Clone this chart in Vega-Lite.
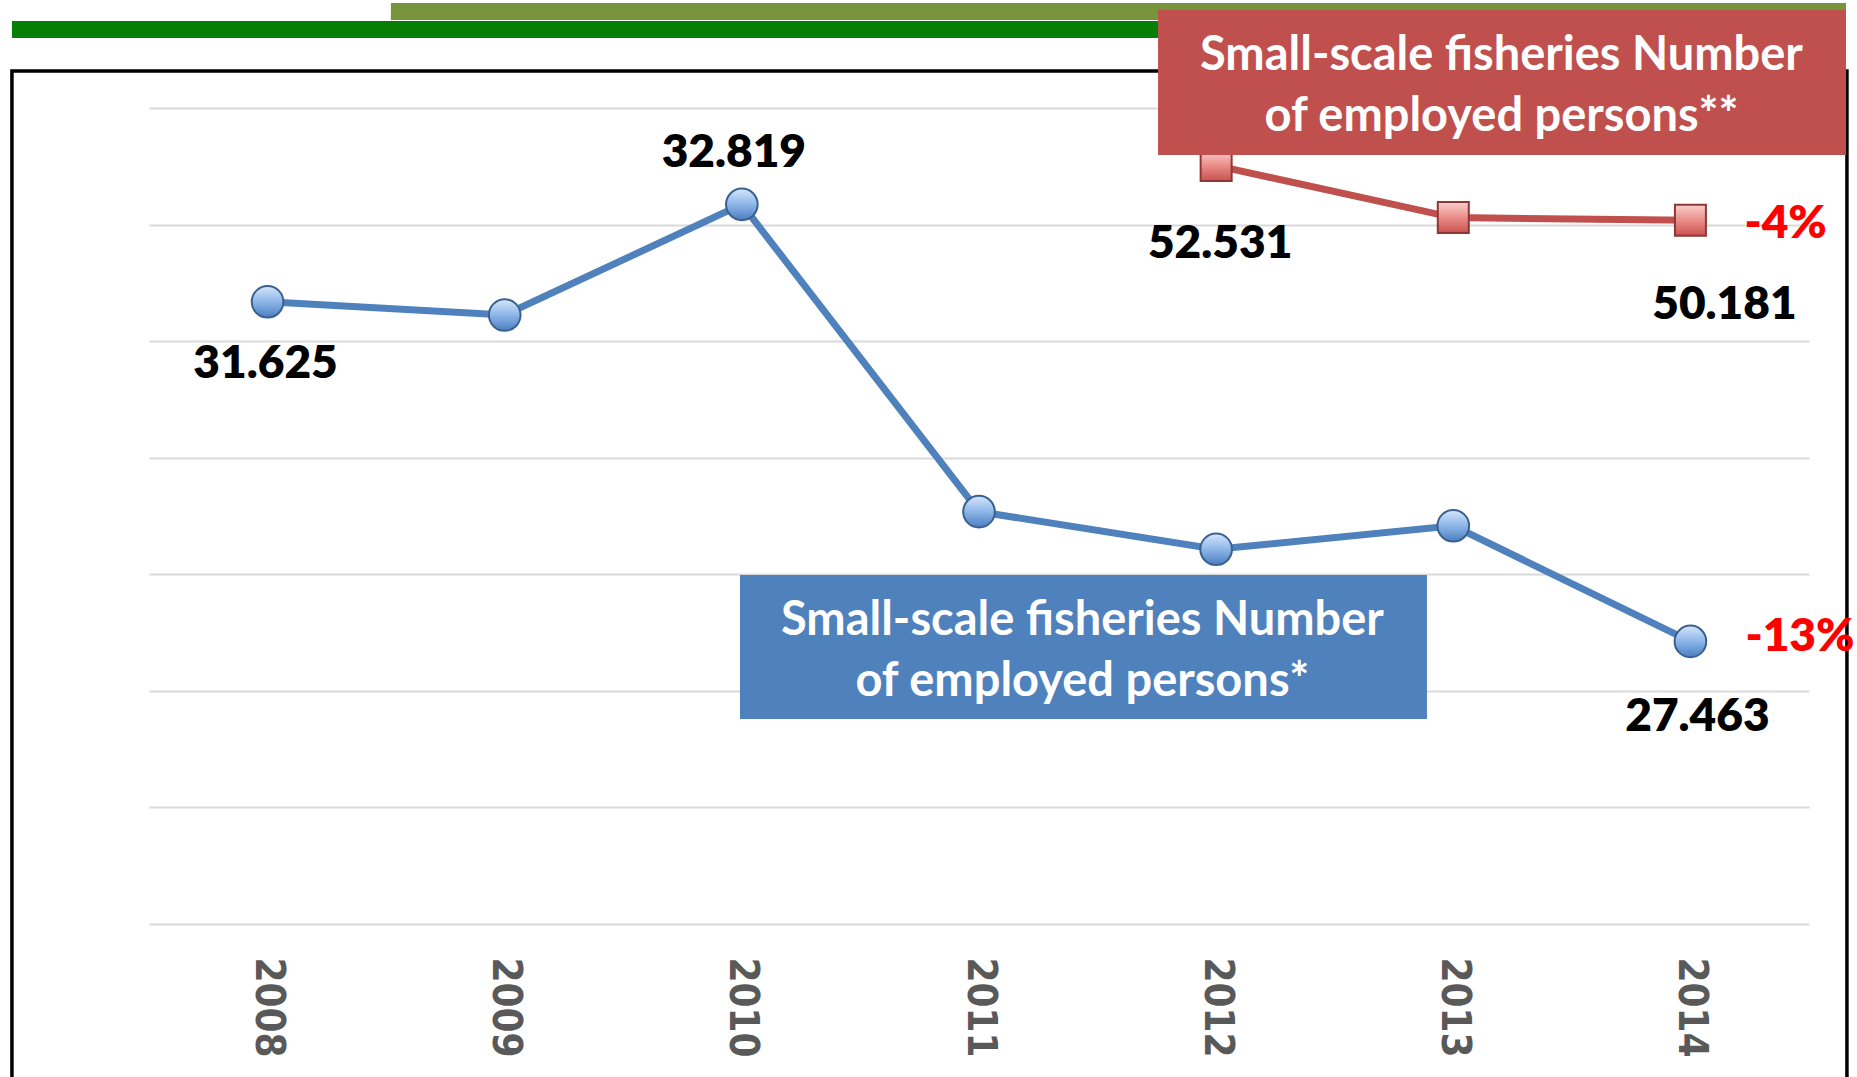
{
  "$schema": "https://vega.github.io/schema/vega-lite/v6.json",
  "width": 1660,
  "height": 816,
  "autosize": {"type": "none"},
  "padding": {"left": 149, "top": 108, "right": 48, "bottom": 153},
  "background": "white",
  "config": {
    "view": {"stroke": null},
    "locale": {"number": {"decimal": ",", "thousands": ".", "grouping": [3], "currency": ["", "€"]}},
    "axisX": {"domain": false, "ticks": false, "grid": false, "labelAngle": 90, "labelFont": "DejaVu Sans Condensed, DejaVu Sans", "labelFontWeight": "bold", "labelFontSize": 40, "labelColor": "#595959", "labelPadding": 33, "labelOverlap": false, "labelFlush": false},
    "axisY": {"domain": false, "ticks": false, "labels": false, "grid": true, "gridColor": "#D9D9D9", "gridWidth": 2}
  },
  "datasets": {
    "blue": [
      {"year": 2008, "value": 31625},
      {"year": 2009, "value": 31463},
      {"year": 2010, "value": 32819},
      {"year": 2011, "value": 29053},
      {"year": 2012, "value": 28592},
      {"year": 2013, "value": 28880},
      {"year": 2014, "value": 27463}
    ],
    "red": [
      {"year": 2012, "value": 52531},
      {"year": 2013, "value": 50300},
      {"year": 2014, "value": 50181}
    ],
    "shapes": [
      {"name": "frame", "x1": 2006.922, "x2": 2014.66, "y1": 56587, "y2": 12451},
      {"name": "olive", "x1": 2008.52, "x2": 2014.656, "y1": 59504, "y2": 58774},
      {"name": "green", "x1": 2006.922, "x2": 2011.763, "y1": 58731, "y2": 58002},
      {"name": "redbox", "x1": 2011.755, "x2": 2014.656, "y1": 59203, "y2": 52984},
      {"name": "bluebox", "x1": 2009.992, "x2": 2012.889, "y1": 34969, "y2": 28793}
    ],
    "notes": [
      {"x": 2013.203, "y": 57359, "text": "Small-scale fisheries Number"},
      {"x": 2013.203, "y": 54743, "text": "of employed persons**"},
      {"x": 2011.436, "y": 33125, "text": "Small-scale fisheries Number"},
      {"x": 2011.436, "y": 30526, "text": "of employed persons*"}
    ]
  },
  "layer": [
    {
      "data": {"name": "shapes"},
      "layer": [
        {
          "transform": [{"filter": "datum.name === 'frame'"}],
          "mark": {"type": "rect", "fill": "transparent", "stroke": "black", "strokeWidth": 3.5},
          "encoding": {
            "x": {"field": "x1", "type": "quantitative", "scale": {"domain": [2007.5, 2014.5], "nice": false, "zero": false}, "axis": {"values": [2008, 2009, 2010, 2011, 2012, 2013, 2014], "format": "d", "title": null}},
            "x2": {"field": "x2"},
            "y": {"field": "y1", "type": "quantitative", "scale": {"domain": [20000, 55000], "nice": false, "zero": false}, "axis": {"values": [20000, 25000, 30000, 35000, 40000, 45000, 50000, 55000], "title": null}},
            "y2": {"field": "y2"}
          }
        },
        {
          "transform": [{"filter": "datum.name === 'olive'"}],
          "mark": {"type": "rect", "color": "#77933C"},
          "encoding": {
            "x": {"field": "x1", "type": "quantitative", "scale": {"domain": [2007.5, 2014.5], "nice": false, "zero": false}, "axis": {"values": [2008, 2009, 2010, 2011, 2012, 2013, 2014], "format": "d", "title": null}},
            "x2": {"field": "x2"},
            "y": {"field": "y1", "type": "quantitative", "scale": {"domain": [20000, 55000], "nice": false, "zero": false}, "axis": {"values": [20000, 25000, 30000, 35000, 40000, 45000, 50000, 55000], "title": null}},
            "y2": {"field": "y2"}
          }
        },
        {
          "transform": [{"filter": "datum.name === 'green'"}],
          "mark": {"type": "rect", "color": "#077F07"},
          "encoding": {
            "x": {"field": "x1", "type": "quantitative", "scale": {"domain": [2007.5, 2014.5], "nice": false, "zero": false}, "axis": {"values": [2008, 2009, 2010, 2011, 2012, 2013, 2014], "format": "d", "title": null}},
            "x2": {"field": "x2"},
            "y": {"field": "y1", "type": "quantitative", "scale": {"domain": [20000, 55000], "nice": false, "zero": false}, "axis": {"values": [20000, 25000, 30000, 35000, 40000, 45000, 50000, 55000], "title": null}},
            "y2": {"field": "y2"}
          }
        }
      ]
    },
    {
      "data": {"name": "blue"},
      "encoding": {
        "x": {"field": "year", "type": "quantitative", "scale": {"domain": [2007.5, 2014.5], "nice": false, "zero": false}, "axis": {"values": [2008, 2009, 2010, 2011, 2012, 2013, 2014], "format": "d", "title": null}},
        "y": {"field": "value", "type": "quantitative", "scale": {"domain": [24000, 34000], "nice": false, "zero": false}, "axis": null}
      },
      "layer": [
        {"mark": {"type": "line", "color": "#4F81BD", "strokeWidth": 7}},
        {"mark": {"type": "point", "shape": "circle", "filled": true, "size": 1000, "opacity": 1, "strokeWidth": 2, "stroke": "#3A6091",
          "fill": {"gradient": "linear", "x1": 0, "y1": 0, "x2": 0, "y2": 1, "stops": [{"offset": 0, "color": "#D6E6FA"}, {"offset": 0.5, "color": "#8DB6E8"}, {"offset": 1, "color": "#4A7EC0"}]}}},
        {"transform": [{"filter": "datum.year === 2008"}],
         "mark": {"type": "text", "font": "Lato", "fontWeight": 800, "fontSize": 46, "color": "black", "dy": 62.5, "dx": -2},
         "encoding": {"text": {"field": "value", "type": "quantitative", "format": ",.0f"}}},
        {"transform": [{"filter": "datum.year === 2010"}],
         "mark": {"type": "text", "font": "Lato", "fontWeight": 800, "fontSize": 46, "color": "black", "dy": -51, "dx": -8},
         "encoding": {"text": {"field": "value", "type": "quantitative", "format": ",.0f"}}},
        {"transform": [{"filter": "datum.year === 2014"}],
         "mark": {"type": "text", "font": "Lato", "fontWeight": 800, "fontSize": 46, "color": "black", "dy": 75.5, "dx": 7},
         "encoding": {"text": {"field": "value", "type": "quantitative", "format": ",.0f"}}},
        {"transform": [{"filter": "datum.year === 2014"}],
         "mark": {"type": "text", "text": "-13%", "font": "Lato", "fontWeight": 800, "fontSize": 46, "color": "#FF0000", "align": "left", "dy": -4, "dx": 55}}
      ]
    },
    {
      "encoding": {
        "y": {"field": "value", "type": "quantitative", "scale": {"domain": [20000, 55000], "nice": false, "zero": false}, "axis": null}
      },
      "layer": [
        {"data": {"name": "red"},
         "mark": {"type": "line", "color": "#C0504D", "strokeWidth": 7},
         "encoding": {"x": {"field": "year", "type": "quantitative", "scale": {"domain": [2007.5, 2014.5], "nice": false, "zero": false}, "axis": {"values": [2008, 2009, 2010, 2011, 2012, 2013, 2014], "format": "d", "title": null}}}},
        {"data": {"name": "red"},
         "mark": {"type": "point", "shape": "square", "filled": true, "size": 961, "opacity": 1, "strokeWidth": 2, "stroke": "#8C3836",
          "fill": {"gradient": "linear", "x1": 0, "y1": 0, "x2": 0, "y2": 1, "stops": [{"offset": 0, "color": "#FAD0CE"}, {"offset": 0.5, "color": "#EA8C88"}, {"offset": 1, "color": "#C9524E"}]}},
         "encoding": {"x": {"field": "year", "type": "quantitative", "scale": {"domain": [2007.5, 2014.5], "nice": false, "zero": false}, "axis": {"values": [2008, 2009, 2010, 2011, 2012, 2013, 2014], "format": "d", "title": null}}}},
        {"data": {"name": "red"},
         "transform": [{"filter": "datum.year === 2012"}],
         "mark": {"type": "text", "font": "Lato", "fontWeight": 800, "fontSize": 46, "color": "black", "dy": 78.5, "dx": 4},
         "encoding": {"x": {"field": "year", "type": "quantitative", "scale": {"domain": [2007.5, 2014.5], "nice": false, "zero": false}, "axis": {"values": [2008, 2009, 2010, 2011, 2012, 2013, 2014], "format": "d", "title": null}},
           "text": {"field": "value", "type": "quantitative", "format": ",.0f"}}},
        {"data": {"name": "red"},
         "transform": [{"filter": "datum.year === 2014"}],
         "mark": {"type": "text", "font": "Lato", "fontWeight": 800, "fontSize": 46, "color": "black", "dy": 84.5, "dx": 34},
         "encoding": {"x": {"field": "year", "type": "quantitative", "scale": {"domain": [2007.5, 2014.5], "nice": false, "zero": false}, "axis": {"values": [2008, 2009, 2010, 2011, 2012, 2013, 2014], "format": "d", "title": null}},
           "text": {"field": "value", "type": "quantitative", "format": ",.0f"}}},
        {"data": {"name": "red"},
         "transform": [{"filter": "datum.year === 2014"}],
         "mark": {"type": "text", "text": "-4%", "font": "Lato", "fontWeight": 800, "fontSize": 46, "color": "#FF0000", "align": "left", "dy": 4, "dx": 54},
         "encoding": {"x": {"field": "year", "type": "quantitative", "scale": {"domain": [2007.5, 2014.5], "nice": false, "zero": false}, "axis": {"values": [2008, 2009, 2010, 2011, 2012, 2013, 2014], "format": "d", "title": null}}}},
        {"data": {"name": "shapes"},
         "transform": [{"filter": "datum.name === 'redbox'"}, {"calculate": "datum.y1", "as": "value"}],
         "mark": {"type": "rect", "color": "#C0504D"},
         "encoding": {"x": {"field": "x1", "type": "quantitative", "scale": {"domain": [2007.5, 2014.5], "nice": false, "zero": false}, "axis": {"values": [2008, 2009, 2010, 2011, 2012, 2013, 2014], "format": "d", "title": null}},
           "x2": {"field": "x2"}, "y2": {"field": "y2"}}},
        {"data": {"name": "shapes"},
         "transform": [{"filter": "datum.name === 'bluebox'"}, {"calculate": "datum.y1", "as": "value"}],
         "mark": {"type": "rect", "color": "#4F81BD"},
         "encoding": {"x": {"field": "x1", "type": "quantitative", "scale": {"domain": [2007.5, 2014.5], "nice": false, "zero": false}, "axis": {"values": [2008, 2009, 2010, 2011, 2012, 2013, 2014], "format": "d", "title": null}},
           "x2": {"field": "x2"}, "y2": {"field": "y2"}}},
        {"data": {"name": "notes"},
         "transform": [{"calculate": "datum.y", "as": "value"}],
         "mark": {"type": "text", "font": "Lato", "fontWeight": "bold", "fontSize": 47, "color": "white", "align": "center", "baseline": "middle", "dy": 3},
         "encoding": {"x": {"field": "x", "type": "quantitative", "scale": {"domain": [2007.5, 2014.5], "nice": false, "zero": false}, "axis": {"values": [2008, 2009, 2010, 2011, 2012, 2013, 2014], "format": "d", "title": null}},
           "text": {"field": "text", "type": "nominal"}}}
      ]
    }
  ],
  "resolve": {"scale": {"y": "independent"}, "axis": {"y": "independent"}}
}
